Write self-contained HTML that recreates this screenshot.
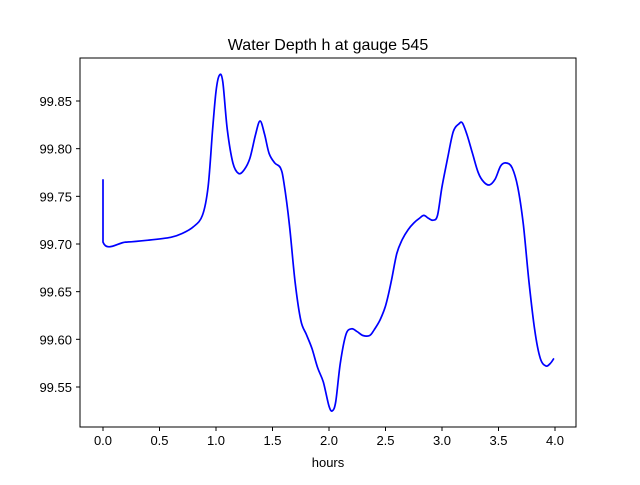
<!DOCTYPE html>
<html><head><meta charset="utf-8"><style>
body{margin:0;background:#fff;font-family:"Liberation Sans","DejaVu Sans",sans-serif}
</style></head><body>
<svg id="chart" width="640" height="480" xmlns="http://www.w3.org/2000/svg">
<rect width="640" height="480" fill="#fff"/>
<text x="328" y="50" text-anchor="middle" font-size="16">Water Depth h at gauge 545</text>
<g id="axes"></g>
<text x="328" y="467" text-anchor="middle" font-size="13">hours</text>
</svg>
<script>
const xTicks=[0,0.5,1,1.5,2,2.5,3,3.5,4];
const xTickLabels=["0.0","0.5","1.0","1.5","2.0","2.5","3.0","3.5","4.0"];
const yTicks=[99.55,99.60,99.65,99.70,99.75,99.80,99.85];
const yTickLabels=["99.55","99.60","99.65","99.70","99.75","99.80","99.85"];
const hours=[0,0,0.2,0.4,0.6,0.7,0.8,0.88,0.93,0.97,1.0,1.03,1.06,1.1,1.15,1.2,1.25,1.3,1.35,1.39,1.43,1.47,1.52,1.57,1.6,1.65,1.7,1.75,1.8,1.85,1.9,1.95,2.0,2.03,2.06,2.1,2.15,2.2,2.25,2.3,2.36,2.4,2.45,2.5,2.55,2.6,2.65,2.7,2.75,2.8,2.84,2.88,2.92,2.96,3.0,3.05,3.1,3.15,3.18,3.22,3.27,3.32,3.37,3.42,3.47,3.52,3.57,3.62,3.67,3.72,3.77,3.82,3.87,3.92,3.96,3.99];
const depth=[99.768,99.702,99.702,99.704,99.707,99.711,99.718,99.73,99.76,99.82,99.86,99.877,99.87,99.82,99.785,99.774,99.778,99.79,99.815,99.829,99.815,99.795,99.785,99.78,99.765,99.72,99.66,99.62,99.605,99.59,99.57,99.555,99.53,99.525,99.535,99.575,99.605,99.611,99.608,99.604,99.604,99.61,99.62,99.635,99.66,99.69,99.705,99.715,99.722,99.727,99.73,99.727,99.725,99.73,99.76,99.79,99.818,99.826,99.827,99.815,99.795,99.775,99.765,99.762,99.768,99.782,99.785,99.78,99.76,99.72,99.66,99.61,99.58,99.572,99.575,99.58];
const L=80,R=576,T=58,B=427;
const xs=v=>103+v*113;
const ys=v=>101+(99.85-v)*953.3;
const NS="http://www.w3.org/2000/svg";
const g=document.getElementById('axes');
function mk(t,a){const e=document.createElementNS(NS,t);for(const k in a)e.setAttribute(k,a[k]);g.appendChild(e);return e;}
xTicks.forEach((v,i)=>{
 const t=mk('line',{x1:xs(v),x2:xs(v),y1:B,y2:B+4,stroke:'#000'});
 
 
 const l=mk('text',{x:xs(v),y:B+18,'text-anchor':'middle','font-size':'13'});
 l.textContent=xTickLabels[i];
 
 
});
yTicks.forEach((v,i)=>{
 const t=mk('line',{x1:L-4,x2:L,y1:ys(v),y2:ys(v),stroke:'#000'});
 
 
 const l=mk('text',{x:L-8,y:ys(v)+5,'text-anchor':'end','font-size':'13'});
 l.textContent=yTickLabels[i];
 
 
});
const P=hours.map((h,i)=>[xs(h),ys(depth[i])]);
let d='M'+P[0][0].toFixed(1)+' '+P[0][1].toFixed(1);
for(let i=0;i<P.length-1;i++){
 const p0=P[Math.max(i-1,0)],p1=P[i],p2=P[i+1],p3=P[Math.min(i+2,P.length-1)];
 if(i===0){d+=' L'+p2[0].toFixed(1)+' '+p2[1].toFixed(1);continue;}
 const c1=[p1[0]+(p2[0]-p0[0])/6,p1[1]+(p2[1]-p0[1])/6];
 const c2=[p2[0]-(p3[0]-p1[0])/6,p2[1]-(p3[1]-p1[1])/6];
 d+=' C'+c1[0].toFixed(1)+' '+c1[1].toFixed(1)+' '+c2[0].toFixed(1)+' '+c2[1].toFixed(1)+' '+p2[0].toFixed(1)+' '+p2[1].toFixed(1);
}
const p=mk('path',{d:d,fill:'none',stroke:'#0000ff','stroke-width':'1.7','stroke-linejoin':'round'});


const f=mk('rect',{x:L,y:T,width:R-L,height:B-T,fill:'none',stroke:'#000','stroke-width':'1'});


</script>
</body></html>
